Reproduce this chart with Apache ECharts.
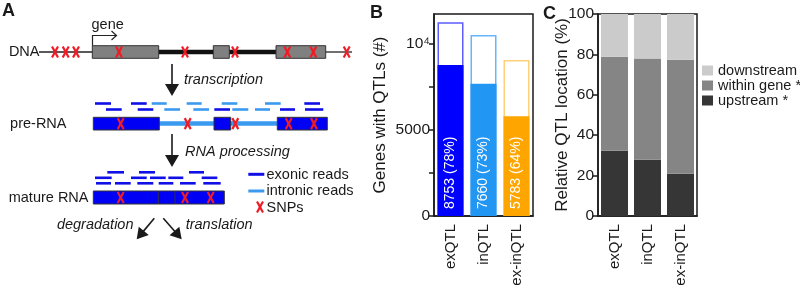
<!DOCTYPE html>
<html>
<head>
<meta charset="utf-8">
<script src="https://cdn.jsdelivr.net/npm/echarts@6.0.0/dist/echarts.min.js"></script>
<style>
html, body { margin: 0; padding: 0; background: #fff; }
#fig { width: 800px; height: 286px; }
</style>
</head>
<body>
<div id="fig"></div>
<script>
// panel B: genes with QTLs
const qtlTypes = ['exQTL', 'inQTL', 'ex-inQTL'];
const genesTotal = [11220, 10490, 9040];
const genesWithQtl = [8753, 7660, 5783];
const genesPct = [78, 73, 64];
const yTicksB = [0, 2500, 5000, 7500, 10000];
const yLabelsB = [0, 5000, 10000];

// panel C: relative QTL location (%)
const locUpstream = [32.3, 27.9, 20.9];
const locWithin = [46.5, 50.1, 56.4];
const locDownstream = [21.2, 22.0, 22.7];
const locNames = ['downstream', 'within gene *', 'upstream *'];

const FONT = '"Liberation Sans", Arial, Helvetica, sans-serif';
const INK = '#1a1a1a';
const RED = '#ee1c25';
const EXON_BLUE = '#0000f5';
const READ_DARK = '#1010e6';
const READ_LIGHT = '#3a9af0';

const barColors = ['#0000ff', '#2196f3', '#ffa500'];
const outlineColors = ['#5c5cff', '#66b5ff', '#ffcf7a'];

// ---------- panel A helpers (diagram) ----------
function txt(x, y, s, o) {
    o = o || {};
    return {
        type: 'text', x: x, y: y, z: 10,
        style: {
            text: s, fill: o.color || INK,
            fontSize: o.size || 14.5, fontFamily: FONT,
            fontStyle: o.italic ? 'italic' : 'normal',
            fontWeight: o.bold ? 'bold' : 'normal',
            align: o.align || 'left', textAlign: o.align || 'left',
            verticalAlign: 'middle', textVerticalAlign: 'middle'
        }
    };
}
function seg(x1, y1, x2, y2, color, w, z) {
    return { type: 'line', z: z || 1, shape: { x1: x1, y1: y1, x2: x2, y2: y2 },
        style: { stroke: color, lineWidth: w } };
}
function box(x, y, w, h, fill) {
    return { type: 'rect', z: 3, shape: { x: x, y: y, width: w, height: h },
        style: { fill: fill, stroke: '#333', lineWidth: 1 } };
}
function snp(cx, cy) {
    return [
        seg(cx - 3, cy - 5.5, cx + 3, cy + 5.5, RED, 2.2, 5),
        seg(cx + 3, cy - 5.5, cx - 3, cy + 5.5, RED, 2.2, 5)
    ];
}
function arrow(x1, y1, x2, y2, head, hw) {
    const dx = x2 - x1, dy = y2 - y1, L = Math.hypot(dx, dy);
    const ux = dx / L, uy = dy / L;
    const bx = x2 - ux * head, by = y2 - uy * head;
    return [
        seg(x1, y1, bx + ux, by + uy, INK, 1.6, 2),
        { type: 'polygon', z: 2, shape: { points: [[x2, y2], [bx - uy * hw, by + ux * hw], [bx + uy * hw, by - ux * hw]] },
          style: { fill: INK } }
    ];
}
function reads(row, y, color) {
    return row.map(r => seg(r[0], y, r[1], y, color, 2.6, 1));
}

var els = [];
// panel letters
els.push(txt(2, 11, 'A', { bold: true, size: 18 }));
els.push(txt(370, 13, 'B', { bold: true, size: 18 }));
els.push(txt(543, 14, 'C', { bold: true, size: 18 }));

// DNA
els.push(txt(39.5, 52, 'DNA', { align: 'right' }));
els.push(seg(39, 52, 93, 52, '#222', 1.3));
els.push(seg(158, 52, 214, 52, '#111', 4.5));
els.push(seg(229, 52, 277, 52, '#111', 4.5));
els.push(seg(325, 52, 352, 52, '#222', 1.3));
els.push(box(92.3, 45.7, 66.4, 12.6, '#808080'));
els.push(box(213.3, 45.7, 16, 12.6, '#808080'));
els.push(box(276, 45.7, 49.7, 12.6, '#808080'));
[55, 65.7, 76, 119, 185, 235, 287.3, 313.3, 346.7].forEach(x => els.push.apply(els, snp(x, 52)));
els.push(txt(91.5, 25, 'gene'));
els.push({ type: 'polyline', z: 2, shape: { points: [[92.5, 45.7], [92.5, 35.5], [116.5, 35.5]] },
    style: { stroke: '#222', lineWidth: 1.2, fill: null } });
els.push({ type: 'polyline', z: 2, shape: { points: [[111.5, 31], [116.5, 35.5], [111.5, 40]] },
    style: { stroke: '#222', lineWidth: 1.2, fill: null } });

// transcription
els.push.apply(els, arrow(172, 64, 172, 96, 12, 7));
els.push(txt(184, 80, 'transcription', { italic: true }));

// pre-RNA
els.push(txt(66.5, 124, 'pre-RNA', { align: 'right' }));
els.push(seg(159, 123.5, 278, 123.5, READ_LIGHT, 4.5));
els.push(box(93.3, 117.3, 66, 12.7, EXON_BLUE));
els.push(box(214, 117.3, 16.7, 12.7, EXON_BLUE));
els.push(box(277.3, 117.3, 50, 12.7, EXON_BLUE));
[120.7, 187.7, 235.3, 288.7, 314].forEach(x => els.push.apply(els, snp(x, 123.6)));
els.push.apply(els, reads([[95, 111], [131, 146.7], [304.3, 320]], 103.5, READ_DARK));
els.push.apply(els, reads([[151.7, 166.7], [186.7, 201.7], [221.7, 237.3], [265, 280.7]], 103.5, READ_LIGHT));
els.push.apply(els, reads([[106, 121.7], [137.7, 153.3], [214.3, 230], [280, 295], [305, 323.3]], 109.5, READ_DARK));
els.push.apply(els, reads([[164.3, 180], [193.3, 209], [232.3, 248.3], [255, 270]], 109.5, READ_LIGHT));

// RNA processing
els.push.apply(els, arrow(172, 134, 172, 167, 12, 7));
els.push(txt(185, 152, 'RNA processing', { italic: true }));

// mature RNA
els.push(txt(88.5, 198, 'mature RNA', { align: 'right' }));
els.push(box(93.3, 191, 131, 13, EXON_BLUE));
els.push(seg(158.3, 191, 158.3, 204, '#333', 1, 4));
els.push(seg(175, 191, 175, 204, '#333', 1, 4));
[120.7, 185, 210.7].forEach(x => els.push.apply(els, snp(x, 197.5)));
els.push.apply(els, reads([[107.3, 124], [139, 155], [189, 204]], 172.3, READ_DARK));
els.push.apply(els, reads([[95, 111.7], [131, 146.7], [150, 165.7], [168.3, 183.3], [201.7, 217.3]], 177.8, READ_DARK));
els.push.apply(els, reads([[96, 111], [115, 130.7], [137.3, 153.3], [158.7, 173.3], [180, 195.7], [203.3, 220.7]], 183.3, READ_DARK));

// legend of panel A
els.push(seg(248.3, 174.3, 264.3, 174.3, READ_DARK, 3));
els.push(txt(266.5, 174.5, 'exonic reads'));
els.push(seg(248.3, 191, 264.3, 191, READ_LIGHT, 3));
els.push(txt(266.5, 191, 'intronic reads'));
els.push.apply(els, snp(260, 207));
els.push(txt(266.5, 207.5, 'SNPs'));

// degradation / translation
els.push.apply(els, arrow(154.3, 218.3, 136.7, 239.3, 11, 6.5));
els.push.apply(els, arrow(163.3, 218.3, 181.7, 239.3, 11, 6.5));
els.push(txt(133.5, 225, 'degradation', { italic: true, align: 'right' }));
els.push(txt(185.7, 225, 'translation', { italic: true }));

// ---------- charts B and C ----------
var chart = echarts.init(document.getElementById('fig'), null, { renderer: 'canvas' });

const axisLine = { show: true, lineStyle: { color: INK, width: 1.5 } };
const tickStyle = { color: INK, width: 1.5 };
const catLabel = { rotate: 90, fontSize: 15, color: INK, margin: 8, fontFamily: FONT };

var option = {
    animation: false,
    textStyle: { fontFamily: FONT, color: INK },
    graphic: { elements: els },
    grid: [
        { left: 434, top: 14, width: 99, height: 202, show: true, borderColor: INK, borderWidth: 1.5,
          outerBoundsMode: 'none', containLabel: false },
        { left: 598, top: 14, width: 99, height: 202, show: true, borderColor: INK, borderWidth: 1.5,
          outerBoundsMode: 'none', containLabel: false }
    ],
    xAxis: [
        { type: 'category', gridIndex: 0, data: qtlTypes, axisLine: axisLine, axisTick: { show: false },
          axisLabel: catLabel },
        { type: 'category', gridIndex: 1, data: qtlTypes, axisLine: axisLine, axisTick: { show: false },
          axisLabel: catLabel }
    ],
    yAxis: [
        {
            type: 'value', gridIndex: 0, min: 0, max: 11700,
            axisLine: axisLine,
            axisTick: { show: true, length: 5, lineStyle: tickStyle, customValues: yTicksB },
            axisLabel: {
                customValues: yLabelsB, fontSize: 15.5, color: INK, margin: 4, fontFamily: FONT,
                formatter: function (v) { return v === 10000 ? '10\u2074' : String(v); }
            },
            splitLine: { show: false },
            name: 'Genes with QTLs (#)', nameLocation: 'middle', nameGap: 45, nameMoveOverlap: false,
            nameTextStyle: { fontSize: 17, color: INK, fontFamily: FONT }
        },
        {
            type: 'value', gridIndex: 1, min: 0, max: 100, interval: 20,
            axisLine: axisLine,
            axisTick: { show: true, length: 5, lineStyle: tickStyle },
            axisLabel: { fontSize: 15.5, color: INK, margin: 4, fontFamily: FONT },
            splitLine: { show: false },
            name: 'Relative QTL location (%)', nameLocation: 'middle', nameGap: 27, nameMoveOverlap: false,
            nameTextStyle: { fontSize: 17, color: INK, fontFamily: FONT }
        }
    ],
    legend: {
        orient: 'vertical', left: 702, top: 63, padding: 0,
        itemWidth: 11, itemHeight: 10, itemGap: 0, icon: 'rect',
        data: locNames,
        textStyle: { fontSize: 14.5, color: INK, fontFamily: FONT }
    },
    series: [
        {
            name: 'total', type: 'bar', xAxisIndex: 0, yAxisIndex: 0, barWidth: 26, barGap: '-100%',
            data: genesTotal.map((v, i) => ({ value: v,
                itemStyle: { color: '#fff', borderColor: outlineColors[i], borderWidth: 1.5 } }))
        },
        {
            name: 'with QTL', type: 'bar', xAxisIndex: 0, yAxisIndex: 0, barWidth: 26, barGap: '-100%',
            data: genesWithQtl.map((v, i) => ({ value: v, itemStyle: { color: barColors[i] } })),
            label: {
                show: true, position: 'insideBottom', rotate: 90, align: 'left', verticalAlign: 'middle',
                distance: 7, color: '#fff', fontSize: 14, fontFamily: FONT,
                formatter: function (p) { return p.value + ' (' + genesPct[p.dataIndex] + '%)'; }
            }
        },
        { name: 'upstream *', type: 'bar', xAxisIndex: 1, yAxisIndex: 1, stack: 'loc', barWidth: 27,
          data: locUpstream, itemStyle: { color: '#363636' } },
        { name: 'within gene *', type: 'bar', xAxisIndex: 1, yAxisIndex: 1, stack: 'loc', barWidth: 27,
          data: locWithin, itemStyle: { color: '#858585' } },
        { name: 'downstream', type: 'bar', xAxisIndex: 1, yAxisIndex: 1, stack: 'loc', barWidth: 27,
          data: locDownstream, itemStyle: { color: '#cbcbcb' } }
    ]
};
chart.setOption(option);
</script>
</body>
</html>
